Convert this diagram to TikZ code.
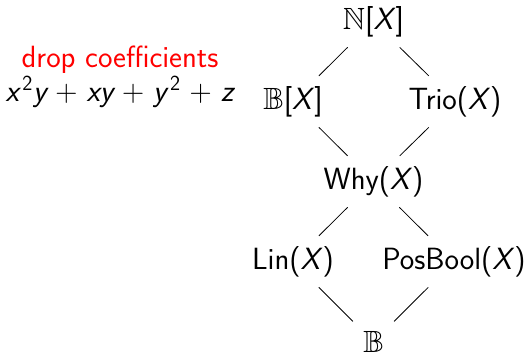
\RequirePackage{fix-cm}
\documentclass[tikz,border=0pt]{standalone}
\usepackage{amsmath}
\usepackage{amssymb}
\usepackage{fontspec}
\begin{document}
\begin{tikzpicture}[x=1pt,y=-1pt,
  lbl/.style={font=\fontsize{30.7}{36}\selectfont\sffamily, inner sep=10.2pt},
  edge/.style={draw=black, line width=0.8pt}]
\useasboundingbox (0,0) rectangle (528,352);
\node[lbl] (nx) at (373.5,21.6) {$\mathbb{N}$[\textit{X}]};
\node[lbl] (bx) at (293,101.6) {$\mathbb{B}$[\textit{X}]};
\node[lbl] (trio) at (455,101.6) {Trio(\textit{X})};
\node[lbl] (why) at (373.5,181.6) {Why(\textit{X})};
\node[lbl] (lin) at (293,261.6) {Lin(\textit{X})};
\node[lbl] (pos) at (454,261.6) {PosBool(\textit{X})};
\node[lbl] (b) at (373.5,342) {$\mathbb{B}$};
\node[lbl, anchor=base, text=red] (drop) at (120,68) {drop coefficients};
\node[lbl, anchor=base] (poly) at (119.5,102) {\medmuskip=5.3mu $\textit{x}^{\,\textsf{2}}\textit{y}+\textit{xy}+\textit{y}^{\,\textsf{2}}+\textit{z}$};
\draw[edge] (nx) -- (bx);
\draw[edge] (nx) -- (trio);
\draw[edge] (bx) -- (why);
\draw[edge] (trio) -- (why);
\draw[edge] (why) -- (lin);
\draw[edge] (why) -- (pos);
\draw[edge] (lin) -- (b);
\draw[edge] (pos) -- (b);
\end{tikzpicture}
\end{document}
